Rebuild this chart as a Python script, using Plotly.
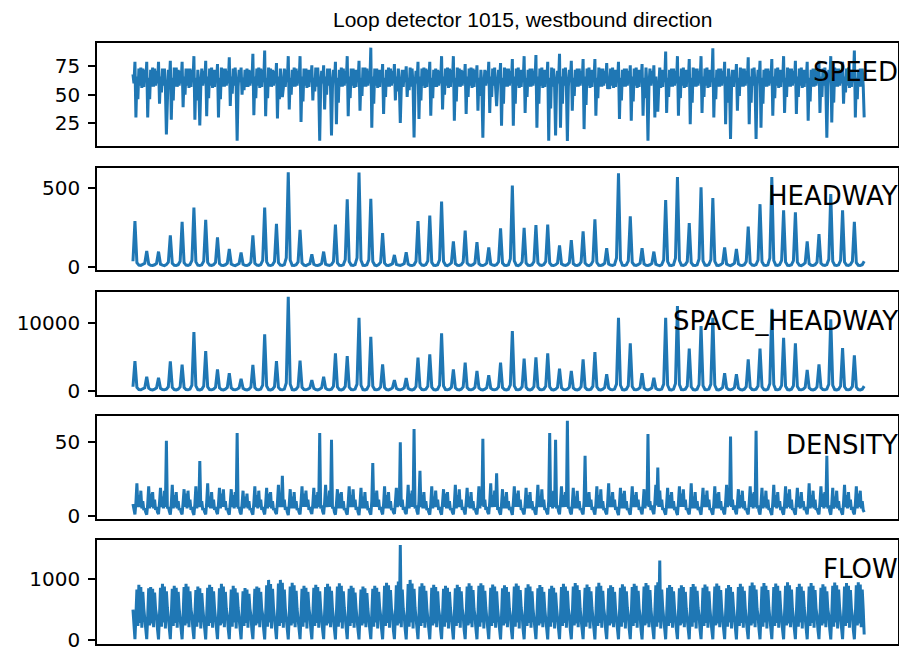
import numpy as np
import plotly.graph_objects as go

# ---- data: one row per day ----
# speed / density / flow: 12 samples per day (~every 2 h)
speed_days = [
    [68, 60, 79, 30, 66, 46, 73, 58, 74, 56, 73, 57], [72, 61, 79, 30, 65, 46, 72, 57, 74, 57, 73, 58],
    [71, 60, 79, 42, 66, 52, 73, 58, 73, 56, 15, 57], [72, 61, 80, 28, 65, 45, 74, 57, 74, 57, 72, 58],
    [71, 60, 79, 39, 66, 50, 73, 58, 73, 56, 73, 57], [72, 61, 84, 28, 65, 45, 72, 57, 23, 57, 73, 58],
    [71, 60, 80, 31, 66, 47, 73, 58, 74, 56, 72, 57], [72, 61, 77, 30, 65, 46, 74, 57, 73, 57, 73, 58],
    [71, 60, 83, 40, 66, 51, 73, 58, 74, 56, 9.5, 57], [72, 61, 74, 50, 65, 54, 72, 57, 73, 57, 72, 58],
    [71, 60, 86, 32, 66, 47, 73, 58, 74, 56, 73, 57], [72, 61, 89, 31, 65, 47, 74, 57, 73, 57, 72, 58],
    [71, 60, 78, 29, 66, 46, 73, 58, 48, 56, 73, 57], [72, 61, 84, 37, 65, 50, 72, 57, 74, 57, 73, 58],
    [71, 60, 84, 26, 66, 44, 73, 58, 73, 56, 72, 57], [72, 61, 76, 45, 65, 53, 74, 57, 74, 57, 9.4, 58],
    [71, 60, 76, 37, 66, 50, 73, 58, 73, 56, 14, 57], [72, 61, 79, 24, 65, 43, 72, 57, 74, 57, 73, 58],
    [71, 60, 84, 31, 66, 47, 73, 58, 73, 56, 72, 57], [72, 61, 80, 36, 65, 49, 74, 57, 74, 57, 73, 58],
    [71, 60, 91.5, 21, 66, 42, 73, 58, 73, 56, 72, 57], [72, 61, 77, 33, 65, 48, 72, 57, 74, 57, 73, 58],
    [71, 60, 77, 45, 66, 53, 73, 58, 25, 56, 72, 57], [72, 61, 75, 48, 65, 54, 74, 57, 73, 57, 12.3, 58],
    [71, 60, 79, 28.6, 66, 45, 73, 58, 74, 56, 73, 57], [72, 61, 79, 31.5, 65, 47, 72, 57, 73, 57, 72, 58],
    [71, 60, 84, 37, 66, 50, 73, 58, 74, 56, 73, 57], [72, 61, 84, 27, 65, 44, 74, 57, 73, 57, 72, 58],
    [71, 60, 77, 33, 66, 48, 73, 58, 74, 56, 73, 57], [72, 61, 76, 36, 65, 49, 72, 57, 12, 57, 72, 58],
    [71, 60, 79, 34, 66, 48, 73, 58, 74, 56, 40, 57], [72, 61, 78, 22.7, 65, 42, 74, 57, 73, 57, 73, 58],
    [71, 60, 81.5, 22.7, 66, 42, 73, 58, 74, 56, 72, 57], [72, 61, 84, 34, 65, 48, 72, 57, 73, 57, 73, 58],
    [71, 60, 85, 21, 66, 42, 73, 58, 74, 56, 72, 57], [72, 61, 79, 9.5, 65, 38, 74, 57, 73, 57, 14, 58],
    [71, 60, 86, 21, 66, 42, 73, 58, 74, 56, 9.2, 57], [72, 61, 80, 36, 65, 49, 72, 57, 73, 57, 73, 58],
    [71, 60, 81.5, 19.7, 66, 41, 73, 58, 74, 56, 72, 57], [72, 61, 81.5, 31.5, 65, 47, 74, 57, 73, 57, 73, 58],
    [71, 60, 78, 55, 66, 55, 73, 58, 74, 56, 72, 57], [72, 61, 79, 28.6, 65, 45, 72, 57, 73, 57, 73, 58],
    [71, 60, 76, 27, 66, 44, 73, 58, 74, 56, 72, 57], [72, 61, 77, 31.5, 65, 47, 74, 57, 9.5, 57, 73, 58],
    [71, 60, 76, 30, 66, 46, 35, 58, 74, 56, 72, 57], [72, 61, 88, 34, 65, 48, 72, 57, 73, 57, 73, 58],
    [71, 60, 84, 31.5, 66, 47, 73, 58, 74, 56, 72, 57], [72, 61, 81.5, 24, 65, 43, 74, 57, 73, 57, 73, 58],
    [71, 60, 84, 34, 66, 48, 73, 58, 74, 56, 72, 57], [72, 61, 91, 30, 65, 46, 72, 57, 73, 57, 73, 58],
    [71, 60, 79, 24, 66, 43, 73, 58, 11, 56, 72, 57], [72, 61, 77, 36, 65, 49, 74, 57, 73, 57, 73, 58],
    [71, 60, 83, 24, 66, 43, 73, 58, 74, 56, 11, 57], [72, 61, 80, 21, 65, 42, 72, 57, 73, 57, 73, 58],
    [71, 60, 81.5, 31.5, 66, 47, 73, 58, 74, 56, 72, 57], [72, 61, 84, 34, 65, 48, 74, 57, 73, 57, 73, 58],
    [71, 60, 80, 33, 66, 48, 73, 58, 74, 56, 72, 57], [72, 61, 79, 27, 65, 44, 72, 57, 73, 57, 73, 58],
    [71, 60, 80, 34, 66, 48, 73, 58, 74, 56, 12, 57], [72, 61, 84, 25.6, 65, 43, 74, 57, 73, 57, 73, 58],
    [71, 60, 79, 42, 66, 52, 73, 58, 74, 56, 72, 57], [72, 61, 89, 30, 65, 46, 72, 57, 73, 57, 73, 58],
]
speed_last = 30

density_days = [
    [8, 3, 1.0, 9, 22, 6, 14, 6, 17, 5, 10, 4], [5, 2.5, 0.8, 8, 20, 5, 15, 6, 16, 5, 11, 4],
    [6, 2.5, 1.2, 9, 19, 6, 13, 5, 17, 6, 50.7, 5], [6, 3, 0.9, 8, 21, 5, 14, 6, 16, 5, 10, 4],
    [5, 2.5, 1.1, 9, 18, 6, 15, 5, 17, 6, 11, 4], [6, 2.5, 0.7, 8, 20, 5, 14, 6, 37, 6, 10, 4],
    [5, 2.5, 1.0, 9, 22, 6, 13, 5, 16, 5, 11, 4], [6, 3, 1.2, 8, 19, 5, 15, 6, 18, 6, 10, 4],
    [5, 2.5, 0.9, 9, 18, 6, 14, 5, 16, 6, 55.9, 5], [6, 2.5, 1.1, 8, 17, 5, 13, 6, 15, 5, 10, 4],
    [5, 2.5, 0.8, 9, 20, 6, 14, 5, 17, 6, 11, 4], [6, 3, 1.0, 8, 19, 5, 15, 6, 16, 5, 10, 4],
    [5, 2.5, 1.2, 9, 21, 6, 14, 6, 27, 6, 11, 4], [6, 2.5, 0.6, 8, 18, 5, 13, 5, 16, 5, 10, 4],
    [5, 2.5, 1.0, 9, 20, 6, 15, 6, 17, 6, 11, 4], [6, 3, 1.3, 8, 19, 5, 14, 5, 16, 6, 55.9, 5],
    [7, 3, 1.1, 9, 21, 6, 13, 6, 17, 6, 51.4, 5], [6, 2.5, 0.9, 8, 18, 5, 15, 5, 16, 5, 10, 4],
    [5, 2.5, 0.8, 9, 20, 6, 14, 6, 18, 6, 11, 4], [6, 2.5, 0.6, 8, 19, 5, 13, 5, 16, 5, 10, 4],
    [5, 2.5, 0.9, 10, 35.6, 6, 15, 6, 17, 6, 11, 4], [6, 3, 1.0, 8, 20, 5, 14, 5, 16, 5, 10, 4],
    [5, 2.5, 1.3, 9, 19, 6, 13, 7, 49.6, 6, 11, 4], [6, 2.5, 1.2, 8, 21, 5, 15, 6, 17, 6, 58.6, 5],
    [7, 3, 1.0, 10, 30.4, 6, 14, 5, 16, 5, 10, 4], [5, 2.5, 0.9, 8, 20, 5, 13, 6, 17, 6, 11, 4],
    [6, 2.5, 0.8, 9, 18, 6, 15, 5, 16, 5, 10, 4], [5, 2.5, 1.1, 8, 21, 5, 14, 6, 18, 6, 11, 4],
    [6, 3, 1.0, 9, 19, 6, 13, 5, 16, 5, 10, 4], [5, 2.5, 1.1, 8, 20, 5, 15, 7, 52, 6, 11, 4],
    [6, 2.5, 1.2, 9, 22, 6, 14, 6, 17, 6, 28.8, 5], [5, 2.5, 0.9, 8, 18, 5, 13, 5, 16, 5, 10, 4],
    [6, 3, 0.7, 9, 20, 6, 15, 6, 17, 6, 11, 4], [5, 2.5, 1.0, 8, 19, 5, 14, 5, 16, 5, 10, 4],
    [6, 2.5, 0.9, 9, 21, 6, 13, 6, 18, 6, 11, 4], [5, 2.5, 1.0, 10, 55.9, 6, 15, 5, 17, 6, 51.4, 5],
    [7, 3, 1.1, 9, 20, 6, 14, 6, 16, 6, 64.1, 5], [6, 2.5, 1.0, 8, 19, 5, 13, 5, 17, 5, 10, 4],
    [5, 2.5, 1.0, 10, 40.5, 6, 15, 6, 16, 6, 11, 4], [6, 3, 0.9, 8, 20, 5, 14, 5, 18, 5, 10, 4],
    [5, 2.5, 1.1, 9, 22, 6, 13, 6, 16, 6, 11, 4], [6, 2.5, 0.6, 8, 19, 5, 15, 5, 17, 5, 10, 4],
    [5, 2.5, 0.9, 9, 20, 6, 14, 6, 16, 6, 11, 4], [6, 3, 1.1, 8, 18, 5, 13, 7, 55.2, 6, 10, 4],
    [7, 3, 1.2, 9, 21, 7, 32.7, 6, 17, 6, 11, 4], [5, 2.5, 0.8, 8, 19, 5, 14, 5, 16, 5, 10, 4],
    [6, 2.5, 0.7, 9, 20, 6, 15, 6, 18, 6, 11, 4], [5, 2.5, 1.0, 8, 22, 5, 13, 5, 16, 5, 10, 4],
    [6, 3, 0.8, 9, 19, 6, 14, 6, 17, 6, 11, 4], [5, 2.5, 0.9, 8, 20, 5, 15, 5, 16, 5, 10, 4],
    [6, 2.5, 1.1, 9, 21, 6, 13, 7, 53.6, 6, 11, 4], [7, 3, 1.1, 8, 18, 5, 14, 6, 17, 5, 10, 4],
    [5, 2.5, 1.0, 9, 20, 6, 15, 5, 16, 6, 57.4, 5], [7, 3, 0.9, 8, 19, 5, 13, 6, 17, 5, 11, 4],
    [5, 2.5, 0.7, 9, 21, 6, 14, 5, 16, 6, 10, 4], [6, 2.5, 0.9, 8, 20, 5, 15, 6, 18, 5, 11, 4],
    [5, 2.5, 0.9, 9, 19, 6, 13, 5, 16, 6, 10, 4], [6, 3, 1.1, 8, 22, 5, 14, 6, 17, 5, 11, 4],
    [5, 2.5, 1.0, 9, 20, 6, 15, 5, 16, 6, 40.5, 5], [7, 3, 0.8, 8, 19, 5, 13, 6, 17, 5, 10, 4],
    [5, 2.5, 0.9, 9, 21, 6, 14, 5, 16, 6, 11, 4], [6, 2.5, 1.0, 8, 20, 5, 15, 6, 17, 5, 10, 4],
]
density_last = 2.5

flow_days = [
    [500, 170, 12, 400, 830, 230, 907, 280, 870, 200, 790, 520], [380, 160, 15, 390, 850, 240, 870, 270, 840, 210, 780, 510],
    [400, 170, 10, 410, 860, 220, 924, 290, 880, 190, 800, 530], [390, 165, 14, 400, 840, 230, 890, 280, 860, 200, 790, 520],
    [370, 160, 12, 390, 870, 240, 924, 270, 880, 210, 800, 510], [400, 170, 16, 410, 820, 220, 880, 290, 850, 190, 770, 530],
    [380, 165, 11, 400, 860, 230, 907, 280, 870, 200, 800, 520], [360, 160, 13, 390, 850, 240, 924, 270, 880, 210, 790, 510],
    [390, 170, 15, 410, 830, 220, 890, 290, 850, 190, 780, 530], [370, 165, 12, 400, 800, 230, 853, 280, 830, 200, 760, 520],
    [400, 160, 14, 390, 840, 240, 880, 270, 860, 210, 790, 510], [410, 170, 10, 410, 900, 220, 988, 290, 920, 190, 840, 530],
    [390, 165, 13, 400, 930, 230, 988, 280, 940, 200, 830, 520], [380, 160, 11, 390, 880, 240, 940, 270, 900, 210, 810, 510],
    [370, 170, 15, 410, 840, 220, 890, 290, 860, 190, 790, 530], [400, 165, 12, 400, 860, 230, 907, 280, 870, 200, 800, 520],
    [390, 160, 14, 390, 870, 240, 924, 270, 880, 210, 810, 510], [380, 170, 10, 410, 880, 220, 934, 290, 890, 190, 800, 530],
    [360, 165, 13, 400, 840, 230, 890, 280, 860, 200, 780, 520], [390, 160, 11, 390, 830, 240, 880, 270, 850, 210, 770, 510],
    [380, 170, 15, 410, 840, 220, 890, 290, 860, 190, 790, 530], [400, 165, 12, 400, 890, 230, 940, 280, 900, 200, 820, 520],
    [410, 160, 14, 390, 900, 240, 960, 270, 1560, 210, 830, 510], [390, 170, 11, 410, 920, 220, 988, 290, 930, 190, 840, 530],
    [380, 165, 13, 400, 880, 230, 934, 280, 890, 200, 810, 520], [370, 160, 12, 390, 860, 240, 907, 270, 870, 210, 800, 510],
    [390, 170, 15, 410, 840, 220, 890, 290, 860, 190, 790, 530], [380, 165, 10, 400, 850, 230, 907, 280, 870, 200, 800, 520],
    [400, 160, 13, 390, 880, 240, 934, 270, 890, 210, 820, 510], [390, 170, 12, 410, 890, 220, 934, 290, 900, 190, 810, 530],
    [380, 165, 14, 400, 860, 230, 910, 280, 880, 200, 800, 520], [370, 160, 11, 390, 850, 240, 900, 270, 870, 210, 790, 510],
    [390, 170, 13, 410, 880, 220, 930, 290, 890, 190, 820, 530], [400, 165, 12, 400, 860, 230, 915, 280, 880, 200, 800, 520],
    [380, 160, 15, 390, 850, 240, 905, 270, 870, 210, 790, 510], [370, 170, 10, 410, 840, 220, 890, 290, 860, 190, 780, 530],
    [390, 165, 13, 400, 870, 230, 925, 280, 880, 200, 810, 520], [400, 160, 12, 390, 880, 240, 935, 270, 900, 210, 820, 510],
    [380, 170, 14, 410, 860, 220, 910, 290, 870, 190, 800, 530], [370, 165, 11, 400, 880, 230, 940, 280, 890, 200, 810, 520],
    [390, 160, 13, 390, 850, 240, 900, 270, 870, 210, 790, 510], [380, 170, 12, 410, 860, 220, 915, 290, 880, 190, 800, 530],
    [400, 165, 15, 400, 870, 230, 925, 280, 890, 200, 810, 520], [390, 160, 10, 390, 880, 240, 935, 270, 900, 210, 820, 510],
    [380, 170, 13, 410, 900, 220, 950, 290, 1308, 190, 830, 530], [370, 165, 12, 400, 860, 230, 905, 280, 870, 200, 800, 520],
    [390, 160, 14, 390, 850, 240, 900, 270, 870, 210, 790, 510], [380, 170, 11, 410, 870, 220, 920, 290, 880, 190, 810, 530],
    [400, 165, 13, 400, 860, 230, 910, 280, 880, 200, 800, 520], [390, 160, 12, 390, 880, 240, 930, 270, 890, 210, 820, 510],
    [380, 170, 15, 410, 850, 220, 905, 290, 870, 190, 790, 530], [370, 165, 10, 400, 870, 230, 925, 280, 880, 200, 810, 520],
    [390, 160, 13, 390, 890, 240, 945, 270, 900, 210, 830, 510], [400, 170, 12, 410, 880, 220, 935, 290, 890, 190, 820, 530],
    [380, 165, 14, 400, 870, 230, 930, 280, 890, 200, 810, 520], [390, 160, 11, 390, 890, 240, 950, 270, 900, 210, 830, 510],
    [380, 170, 13, 410, 870, 220, 925, 290, 880, 190, 810, 530], [370, 165, 12, 400, 880, 230, 935, 280, 890, 200, 820, 520],
    [390, 160, 15, 390, 860, 240, 915, 270, 880, 210, 800, 510], [400, 170, 10, 410, 890, 220, 945, 290, 900, 190, 830, 530],
    [380, 165, 13, 400, 880, 230, 935, 280, 890, 200, 820, 520], [390, 160, 12, 390, 900, 240, 950, 270, 910, 210, 830, 510],
]
flow_last = 90

# headway / space headway: 6 samples per day (~every 4 h)
headway_days = [
    [35, 288, 26, 11, 9, 14], [22, 100, 17, 10, 9, 13], [22, 96, 17, 11, 8, 14], [29, 199, 22, 10, 9, 13],
    [35, 284, 26, 11, 9, 14], [41, 374, 31, 10, 8, 13], [36, 297, 27, 11, 9, 14], [28, 186, 21, 10, 9, 13],
    [23, 113, 18, 11, 8, 14], [21, 90, 16, 10, 9, 13], [29, 199, 22, 11, 9, 14], [41, 374, 31, 10, 8, 13],
    [34, 271, 26, 11, 9, 14], [57, 596, 42, 10, 9, 13], [31, 233, 24, 11, 8, 14], [20, 79, 16, 10, 9, 13],
    [22, 96, 17, 11, 9, 14], [34, 267, 25, 10, 8, 13], [45, 425, 33, 11, 9, 14], [57, 594, 42, 10, 9, 13],
    [45, 429, 33, 11, 8, 14], [30, 212, 23, 10, 9, 13], [20, 75, 16, 11, 9, 14], [21, 92, 17, 10, 8, 13],
    [35, 288, 26, 11, 9, 14], [38, 323, 28, 10, 9, 13], [44, 412, 33, 11, 8, 14], [26, 160, 20, 10, 9, 13],
    [31, 229, 23, 11, 9, 14], [26, 156, 20, 10, 8, 13], [24, 122, 18, 11, 9, 14], [32, 242, 24, 10, 9, 13],
    [51, 513, 38, 11, 8, 14], [32, 246, 24, 10, 9, 13], [33, 263, 25, 11, 9, 14], [34, 267, 25, 10, 8, 13],
    [24, 135, 19, 11, 9, 14], [27, 169, 20, 10, 9, 13], [31, 224, 23, 11, 8, 14], [36, 299, 27, 10, 9, 13],
    [23, 117, 18, 11, 9, 14], [56, 590, 42, 10, 8, 13], [37, 318, 28, 11, 9, 14], [23, 117, 18, 10, 9, 13],
    [22, 96, 17, 11, 8, 14], [44, 421, 33, 10, 9, 13], [55, 566, 40, 11, 9, 14], [34, 276, 26, 10, 8, 13],
    [50, 502, 37, 11, 9, 14], [45, 434, 34, 10, 9, 13], [24, 122, 18, 11, 8, 14], [23, 113, 18, 10, 9, 13],
    [33, 254, 25, 11, 9, 14], [43, 395, 32, 10, 8, 13], [55, 566, 40, 11, 9, 14], [40, 357, 30, 10, 9, 13],
    [39, 344, 29, 11, 8, 14], [26, 160, 20, 10, 9, 13], [29, 207, 22, 11, 9, 14], [47, 459, 35, 10, 8, 13],
    [40, 357, 30, 11, 9, 14], [35, 284, 26, 10, 9, 13],
]
headway_last = 35

space_headway_days = [
    [670, 4456, 570, 260, 220, 320], [530, 2147, 460, 250, 210, 310], [520, 2000, 450, 260, 220, 320],
    [660, 4412, 570, 250, 210, 310], [640, 3926, 550, 260, 220, 320], [920, 8721, 790, 250, 210, 310],
    [760, 5926, 650, 260, 220, 320], [590, 3235, 510, 250, 210, 310], [560, 2647, 480, 260, 220, 320],
    [510, 1853, 440, 250, 210, 310], [630, 3868, 540, 260, 220, 320], [900, 8382, 770, 250, 210, 310],
    [670, 4456, 570, 260, 220, 320], [1230, 13900, 1050, 250, 210, 310], [670, 4500, 580, 260, 220, 320],
    [500, 1662, 430, 250, 210, 310], [530, 2147, 460, 260, 220, 320], [740, 5588, 630, 250, 210, 310],
    [710, 5191, 610, 260, 220, 320], [1050, 10824, 890, 250, 210, 310], [880, 8029, 750, 260, 220, 320],
    [640, 3971, 550, 250, 210, 310], [500, 1662, 430, 260, 220, 320], [520, 1956, 450, 250, 210, 310],
    [700, 4941, 600, 260, 220, 320], [730, 5441, 620, 250, 210, 310], [910, 8529, 780, 260, 220, 320],
    [590, 3235, 510, 250, 210, 310], [650, 4206, 560, 260, 220, 320], [580, 2985, 500, 250, 210, 310],
    [540, 2353, 470, 260, 220, 320], [650, 4206, 560, 250, 210, 310], [930, 8868, 790, 260, 220, 320],
    [690, 4794, 590, 250, 210, 310], [700, 4995, 600, 260, 220, 320], [740, 5588, 630, 250, 210, 310],
    [600, 3324, 520, 260, 220, 320], [580, 2985, 500, 250, 210, 310], [680, 4706, 590, 260, 220, 320],
    [750, 5779, 640, 250, 210, 310], [550, 2500, 480, 260, 220, 320], [1050, 10824, 890, 250, 210, 310],
    [820, 7059, 700, 260, 220, 320], [560, 2647, 480, 250, 210, 310], [520, 2000, 450, 260, 220, 320],
    [1050, 10824, 890, 250, 210, 310], [1150, 12544, 980, 260, 220, 320], [780, 6265, 660, 250, 210, 310],
    [980, 9603, 830, 260, 220, 320], [1050, 10824, 890, 250, 210, 310], [560, 2647, 480, 260, 220, 320],
    [550, 2500, 480, 250, 210, 310], [680, 4706, 590, 260, 220, 320], [780, 6265, 660, 250, 210, 310],
    [1130, 12147, 960, 260, 220, 320], [870, 7882, 740, 250, 210, 310], [820, 7059, 700, 260, 220, 320],
    [590, 3132, 510, 250, 210, 310], [640, 3971, 550, 260, 220, 320], [1040, 10588, 880, 250, 210, 310],
    [780, 6368, 670, 260, 220, 320], [720, 5294, 610, 250, 210, 310],
]
space_headway_last = 760

names = ["SPEED", "HEADWAY", "SPACE_HEADWAY", "DENSITY", "FLOW"]
tick_values = [[25, 50, 75], [0, 500], [0, 10000], [0, 50], [0, 1000]]
title_text = "Loop detector 1015, westbound direction"


def flatten(rows, last):
    return [v for r in rows for v in r] + [last]


series = [
    (flatten(speed_days, speed_last), 12),
    (flatten(headway_days, headway_last), 6),
    (flatten(space_headway_days, space_headway_last), 6),
    (flatten(density_days, density_last), 12),
    (flatten(flow_days, flow_last), 12),
]

# ---- styling / layout ----
yranges = [[5, 95.6], [-21, 626], [-544, 14603], [-2.2, 67.2], [-66, 1637]]
domains = [[0.829, 1.0], [0.622, 0.7928], [0.4143, 0.5857], [0.2077, 0.3789], [0.0, 0.1723]]
xrange_ = [-18.3, 389.2]   # in units of 4-hour steps
color = "#1f77b4"

fig = go.Figure()
layout = dict(
    width=899, height=652,
    margin=dict(l=89, r=8, t=35, b=7),
    paper_bgcolor="white", plot_bgcolor="white",
    showlegend=False,
    font=dict(family="DejaVu Sans", size=20, color="black"),
)
annotations = []
for i, (name, (ys, per_day)) in enumerate(zip(names, series)):
    n = i + 1
    sx = "" if n == 1 else str(n)
    xs = (np.arange(len(ys)) * (6.0 / per_day)).tolist()
    fig.add_trace(go.Scatter(x=xs, y=ys, mode="lines",
                             line=dict(color=color, width=3),
                             xaxis="x" + sx, yaxis="y" + sx, hoverinfo="skip"))
    layout["xaxis" + sx] = dict(
        domain=[0, 1], anchor="y" + sx, range=xrange_,
        showline=True, mirror=True, linecolor="black", linewidth=1.5,
        showgrid=False, zeroline=False, showticklabels=False, ticks="",
    )
    layout["yaxis" + sx] = dict(
        domain=domains[i], anchor="x" + sx, range=yranges[i],
        showline=True, mirror=True, linecolor="black", linewidth=1.5,
        showgrid=False, zeroline=False,
        ticks="outside", ticklen=7, tickwidth=1.5, tickcolor="black",
        tickvals=tick_values[i], ticktext=[str(v) for v in tick_values[i]],
        tickfont=dict(family="DejaVu Sans", size=20, color="black"),
        ticklabelstandoff=4,
    )
    annotations.append(dict(
        text=name, xref="x" + sx + " domain", yref="y" + sx + " domain",
        x=1.0031, y=0.72, xanchor="right", yanchor="middle", showarrow=False,
        font=dict(family="DejaVu Sans", size=26, color="black"),
    ))

annotations.append(dict(
    text=title_text, xref="paper", yref="paper", x=0.531, y=1.0389,
    xanchor="center", yanchor="middle", showarrow=False,
    font=dict(family="Liberation Sans", size=21, color="black"),
))
layout["annotations"] = annotations
fig.update_layout(**layout)

fig.write_html("out.html")
